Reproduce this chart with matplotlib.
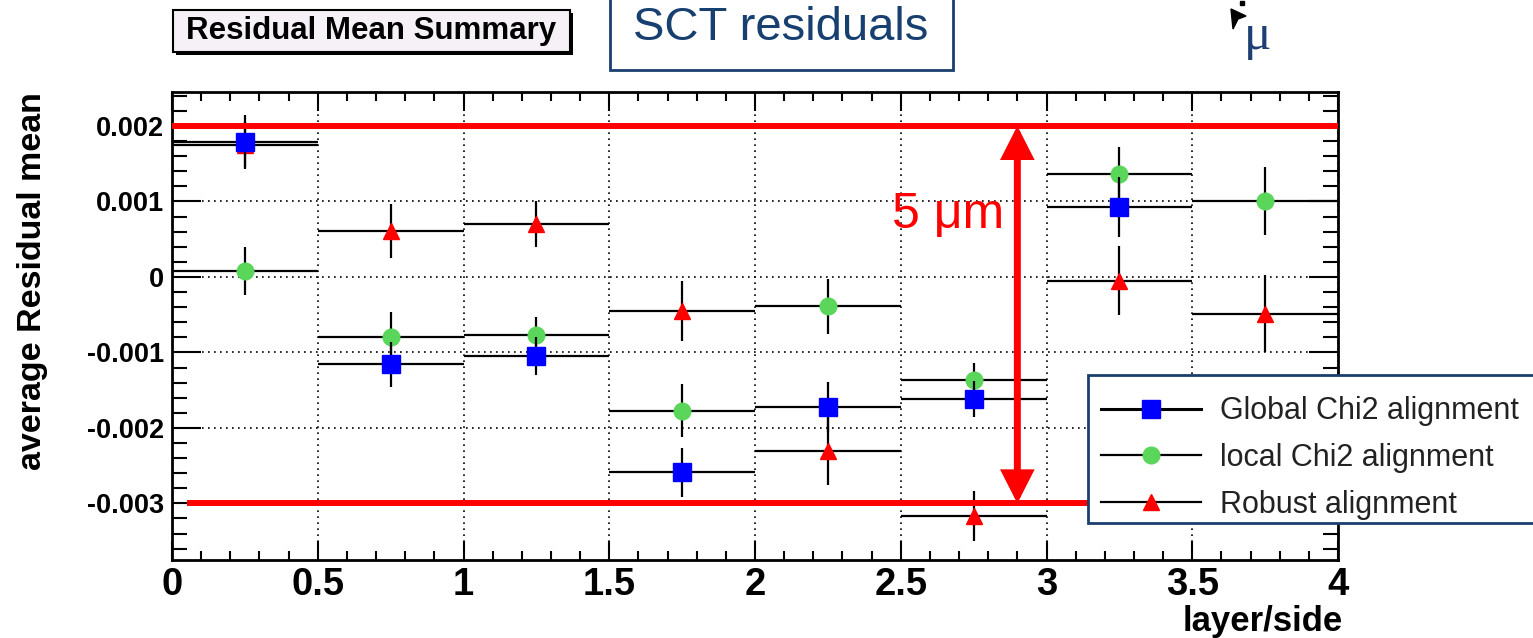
import numpy as np
import matplotlib
matplotlib.use("Agg")
import matplotlib.pyplot as plt
from matplotlib.lines import Line2D
from matplotlib.patches import Rectangle, FancyArrowPatch, Polygon
from matplotlib.ticker import MultipleLocator, FuncFormatter

plt.rcParams['font.family'] = ['Liberation Sans', 'DejaVu Sans']

# ---- data: residual mean per layer/side bin ----
bin_centers = [0.25, 0.75, 1.25, 1.75, 2.25, 2.75, 3.25, 3.75]
bin_half_width = 0.25

global_chi2_mean = [0.00179, -0.00116, -0.00105, -0.00259, -0.00172, -0.00162, 0.00093, np.nan]
global_chi2_err = [0.00036, 0.00030, 0.00025, 0.00032, 0.00033, 0.00024, 0.00040, np.nan]

local_chi2_mean = [0.00008, -0.00080, -0.00077, -0.00177, -0.00039, -0.00137, 0.00136, 0.00101]
local_chi2_err = [0.00032, 0.00034, 0.00024, 0.00035, 0.00036, 0.00023, 0.00036, 0.00045]

robust_mean = [0.00175, 0.00061, 0.00070, -0.00045, -0.00231, -0.00317, -0.00005, -0.00049]
robust_err = [0.00030, 0.00036, 0.00030, 0.00040, 0.00044, 0.00033, 0.00046, 0.00051]

series_labels = ["Global Chi2 alignment", "local Chi2 alignment", "Robust alignment"]

band_upper = 0.002
band_lower = -0.003
band_text = "5 \u03bcm"

W, H, DPI = 1533, 638, 100
fig = plt.figure(figsize=(W / DPI, H / DPI), dpi=DPI, facecolor='white')


def fx(px):
    return px / W


def fy(py):
    return 1 - py / H


ax = fig.add_axes([fx(172), fy(560), fx(1338) - fx(172), fy(92) - fy(560)])
ax.set_xlim(0, 4)
ax.set_ylim(-0.00375, 0.00245)

# grid
ax.grid(True, which='major', color='black', linestyle=(0, (1, 2.6)), linewidth=1.2, zorder=0)
ax.set_axisbelow(True)

# series (drawn back to front)
common = dict(xerr=bin_half_width, ecolor='black', elinewidth=1.6, capsize=0, linestyle='none')
ax.errorbar(bin_centers, robust_mean, yerr=robust_err, marker='^', markersize=12,
            markerfacecolor='#ff0000', markeredgecolor='#ff0000', zorder=2, **common)
ax.errorbar(bin_centers, local_chi2_mean, yerr=local_chi2_err, marker='o', markersize=12,
            markerfacecolor='#5ad65a', markeredgecolor='#5ad65a', zorder=2.2, **common)
ax.errorbar(bin_centers, global_chi2_mean, yerr=global_chi2_err, marker='s', markersize=13,
            markerfacecolor='#0000ff', markeredgecolor='#0000ff', zorder=2.4, **common)

# band limits and arrow
ax.plot([0, 4], [band_upper, band_upper], color='#ff0000', lw=4.3, zorder=5, solid_capstyle='butt')
ax.plot([0.05, 4], [band_lower, band_lower], color='#ff0000', lw=4.3, zorder=5, solid_capstyle='butt')
arrow = FancyArrowPatch((2.9, band_lower), (2.9, band_upper),
                        arrowstyle='<|-|>,head_length=0.55,head_width=0.28',
                        mutation_scale=30, color='#ff0000', lw=5, shrinkA=0, shrinkB=0,
                        joinstyle='miter', zorder=6)
ax.add_patch(arrow)
ax.text(2.47, 0.00065, band_text, color='#ff0000', fontsize=36, ha='left', va='baseline', zorder=6)

# axes styling
for s in ax.spines.values():
    s.set_linewidth(2)
    s.set_color('black')
ax.xaxis.set_major_locator(MultipleLocator(0.5))
ax.xaxis.set_minor_locator(MultipleLocator(0.1))
ax.yaxis.set_major_locator(MultipleLocator(0.001))
ax.yaxis.set_minor_locator(MultipleLocator(0.0002))
ax.xaxis.set_major_formatter(FuncFormatter(lambda v, p: '%g' % round(v, 6)))
ax.yaxis.set_major_formatter(FuncFormatter(lambda v, p: '%g' % round(v, 6)))
ax.tick_params(axis='both', which='both', direction='in', top=True, right=True, width=1.5, color='black')
ax.tick_params(axis='x', which='major', length=14, labelsize=27.5, pad=5)
ax.tick_params(axis='x', which='minor', length=6.5)
ax.tick_params(axis='y', which='major', length=21, labelsize=19.5, pad=6)
ax.tick_params(axis='y', which='minor', length=10.5)
for lab in ax.get_xticklabels() + ax.get_yticklabels():
    lab.set_fontweight('bold')

ax.set_xlabel('layer/side', fontsize=25, fontweight='bold', ha='right')
ax.xaxis.set_label_coords(1.004, -0.097)
ax.set_ylabel('average Residual mean', fontsize=24.5, fontweight='bold')
ax.yaxis.set_label_coords(-0.106, 0.596)

# legend: frame drawn separately, entries placed inside it
fig.add_artist(Rectangle((fx(1088), fy(523)), fx(1545) - fx(1088), fy(375) - fy(523),
                         transform=fig.transFigure, facecolor='white', edgecolor='#1a3f6f',
                         lw=2, zorder=9))
handles = [
    Line2D([], [], color='black', lw=2.2, marker='s', markersize=12.5,
           markerfacecolor='#0000ff', markeredgecolor='#0000ff'),
    Line2D([], [], color='black', lw=1.6, marker='o', markersize=12,
           markerfacecolor='#5ad65a', markeredgecolor='#5ad65a'),
    Line2D([], [], color='black', lw=1.6, marker='^', markersize=11,
           markerfacecolor='#ff0000', markeredgecolor='#ff0000'),
]
leg = fig.legend(handles, series_labels, loc='upper left',
                 bbox_to_anchor=(fx(1086), fy(381)), bbox_transform=fig.transFigure,
                 borderaxespad=0, fontsize=22, handlelength=3.27, handletextpad=0.6,
                 labelspacing=0.55, borderpad=0.5, frameon=False)
leg.set_zorder(10)
for t in leg.get_texts():
    t.set_color('#222222')

# title box with drop shadow
fig.add_artist(Rectangle((fx(176), fy(55)), fx(397), fy(0) - fy(42),
                         transform=fig.transFigure, facecolor='black', edgecolor='none'))
fig.add_artist(Rectangle((fx(173), fy(52)), fx(397), fy(0) - fy(42),
                         transform=fig.transFigure, facecolor='#f6f1f6', edgecolor='black', lw=1.5))
fig.text(fx(371), fy(31), 'Residual Mean Summary', fontsize=22.5, fontweight='bold',
         ha='center', va='center', color='black')

# heading box
fig.add_artist(Rectangle((fx(610), fy(70)), fx(343), fy(-5) - fy(70),
                         transform=fig.transFigure, facecolor='white', edgecolor='#1a3f6f', lw=2))
fig.text(fx(781), fy(28), 'SCT residuals', fontsize=34, ha='center', va='center', color='#173f6f')

# unit symbol and pointer at top right
fig.text(fx(1258), fy(49), '\u03bc', fontsize=37, ha='center', va='baseline',
         color='#1d3f73', family=['Liberation Serif', 'DejaVu Serif'])
fig.add_artist(Polygon([(1231, H - 9), (1246, H - 16), (1238, H - 19), (1233, H - 29)],
                       closed=True, transform=None, facecolor='black', edgecolor='black'))
fig.add_artist(Polygon([(1240, H - 1), (1244, H - 1), (1244, H - 5), (1240, H - 5)],
                       closed=True, transform=None, facecolor='black', edgecolor='black'))

fig.savefig('out.png', dpi=DPI, facecolor='white')
